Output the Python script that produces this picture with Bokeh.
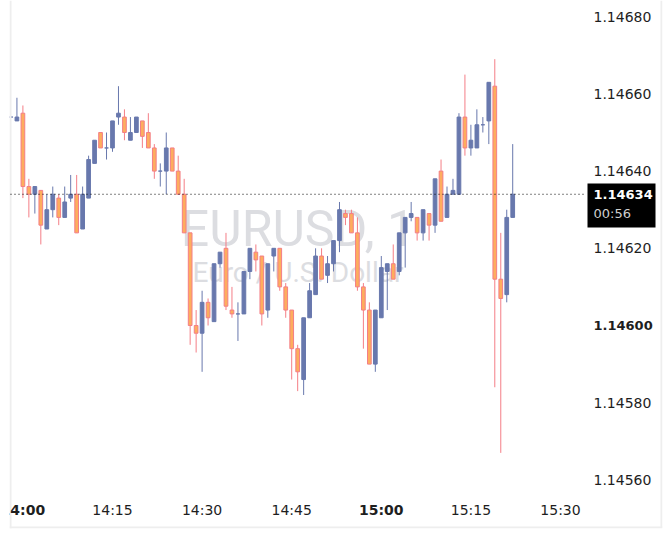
from bokeh.plotting import figure
from bokeh.models import ColumnDataSource, Label, Range1d
from bokeh.core.properties import value
from bokeh.embed import file_html
from bokeh.resources import INLINE

# ---------------- data (EURUSD, 1-minute candles) ----------------
times = ["13:58", "13:59", "14:00", "14:01", "14:02", "14:03", "14:04", "14:05", "14:06", "14:07",
         "14:08", "14:09", "14:10", "14:11", "14:12", "14:13", "14:14", "14:15", "14:16", "14:17",
         "14:18", "14:19", "14:20", "14:21", "14:22", "14:23", "14:24", "14:25", "14:26", "14:27",
         "14:28", "14:29", "14:30", "14:31", "14:32", "14:33", "14:34", "14:35", "14:36", "14:37",
         "14:38", "14:39", "14:40", "14:41", "14:42", "14:43", "14:44", "14:45", "14:46", "14:47",
         "14:48", "14:49", "14:50", "14:51", "14:52", "14:53", "14:54", "14:55", "14:56", "14:57",
         "14:58", "14:59", "15:00", "15:01", "15:02", "15:03", "15:04", "15:05", "15:06", "15:07",
         "15:08", "15:09", "15:10", "15:11", "15:12", "15:13", "15:14", "15:15", "15:16", "15:17",
         "15:18", "15:19", "15:20", "15:21", "15:22"]
opens = [1.14654, 1.14653, 1.14655, 1.14636, 1.14634, 1.14635, 1.14625, 1.14630, 1.14633, 1.14628,
         1.14633, 1.14634, 1.14625, 1.14633, 1.14642, 1.14650, 1.14646, 1.14646, 1.14654, 1.14654,
         1.14648, 1.14650, 1.14653, 1.14650, 1.14646, 1.14640, 1.14640, 1.14646, 1.14640, 1.14634,
         1.14624, 1.14600, 1.14598, 1.14606, 1.14601, 1.14616, 1.14620, 1.14604, 1.14603, 1.14603,
         1.14614, 1.14619, 1.14618, 1.14604, 1.14618, 1.14620, 1.14610, 1.14604, 1.14594, 1.14586,
         1.14602, 1.14608, 1.14618, 1.14613, 1.14616, 1.14622, 1.14629, 1.14629, 1.14624, 1.14610,
         1.14604, 1.14590, 1.14602, 1.14614, 1.14616, 1.14614, 1.14624, 1.14628, 1.14628, 1.14624,
         1.14629, 1.14626, 1.14640, 1.14628, 1.14634, 1.14634, 1.14654, 1.14646, 1.14646, 1.14652,
         1.14653, 1.14662, 1.14612, 1.14608, 1.14628]
highs = [1.14654, 1.14659, 1.14657, 1.14638, 1.14636, 1.14635, 1.14634, 1.14636, 1.14634, 1.14636,
         1.14639, 1.14639, 1.14636, 1.14644, 1.14648, 1.14650, 1.14650, 1.14653, 1.14662, 1.14656,
         1.14654, 1.14654, 1.14653, 1.14655, 1.14647, 1.14642, 1.14650, 1.14646, 1.14644, 1.14638,
         1.14624, 1.14604, 1.14609, 1.14607, 1.14616, 1.14619, 1.14624, 1.14610, 1.14606, 1.14614,
         1.14620, 1.14621, 1.14618, 1.14616, 1.14620, 1.14620, 1.14611, 1.14604, 1.14595, 1.14602,
         1.14611, 1.14620, 1.14620, 1.14618, 1.14622, 1.14632, 1.14630, 1.14630, 1.14628, 1.14611,
         1.14606, 1.14604, 1.14618, 1.14616, 1.14621, 1.14624, 1.14628, 1.14632, 1.14628, 1.14630,
         1.14629, 1.14638, 1.14643, 1.14636, 1.14638, 1.14655, 1.14665, 1.14652, 1.14656, 1.14654,
         1.14663, 1.14669, 1.14624, 1.14630, 1.14647]
lows = [1.14654, 1.14653, 1.14633, 1.14628, 1.14629, 1.14621, 1.14625, 1.14628, 1.14626, 1.14628,
        1.14632, 1.14624, 1.14625, 1.14633, 1.14642, 1.14646, 1.14643, 1.14645, 1.14652, 1.14648,
        1.14648, 1.14650, 1.14646, 1.14646, 1.14638, 1.14636, 1.14634, 1.14640, 1.14634, 1.14624,
        1.14595, 1.14593, 1.14588, 1.14600, 1.14601, 1.14615, 1.14604, 1.14602, 1.14596, 1.14603,
        1.14612, 1.14614, 1.14600, 1.14602, 1.14614, 1.14609, 1.14602, 1.14586, 1.14583, 1.14582,
        1.14602, 1.14608, 1.14612, 1.14611, 1.14614, 1.14619, 1.14626, 1.14624, 1.14609, 1.14594,
        1.14590, 1.14588, 1.14602, 1.14604, 1.14612, 1.14613, 1.14615, 1.14627, 1.14622, 1.14622,
        1.14622, 1.14624, 1.14627, 1.14628, 1.14634, 1.14634, 1.14644, 1.14644, 1.14646, 1.14650,
        1.14647, 1.14584, 1.14567, 1.14606, 1.14628]
closes = [1.14654, 1.14654, 1.14636, 1.14634, 1.14636, 1.14626, 1.14630, 1.14634, 1.14628, 1.14632,
          1.14634, 1.14624, 1.14634, 1.14643, 1.14648, 1.14646, 1.14646, 1.14653, 1.14655, 1.14650,
          1.14650, 1.14654, 1.14649, 1.14646, 1.14640, 1.14640, 1.14646, 1.14640, 1.14634, 1.14624,
          1.14600, 1.14598, 1.14606, 1.14602, 1.14616, 1.14619, 1.14605, 1.14603, 1.14603, 1.14614,
          1.14620, 1.14617, 1.14603, 1.14616, 1.14620, 1.14610, 1.14604, 1.14594, 1.14588, 1.14602,
          1.14609, 1.14618, 1.14612, 1.14616, 1.14622, 1.14630, 1.14628, 1.14624, 1.14610, 1.14604,
          1.14590, 1.14604, 1.14615, 1.14616, 1.14612, 1.14624, 1.14628, 1.14629, 1.14624, 1.14630,
          1.14626, 1.14638, 1.14627, 1.14634, 1.14635, 1.14654, 1.14646, 1.14648, 1.14652, 1.14652,
          1.14663, 1.14612, 1.14607, 1.14628, 1.14634]

price_ticks = [1.1456, 1.1458, 1.1462, 1.1464, 1.1466, 1.1468]
bold_price_ticks = [1.1460]
time_tick_minutes = [15, 30, 45, 75, 90]
time_tick_labels = ["14:15", "14:30", "14:45", "15:15", "15:30"]
bold_time_minutes = [0, 60]
bold_time_labels = ["14:00", "15:00"]
last_price = 1.14634
countdown = "00:56"
symbol_text = "EURUSD, 1"
description_text = "Euro / U.S. Dollar"

# ---------------- layout constants (pixels) ----------------
W, H = 670, 541
F_LEFT, F_RIGHT, F_TOP, F_BOTTOM = 9, 662, 0, 528    # whole chart widget
PANE_LEFT, PANE_RIGHT = 10, 585                        # candle pane
PX_PER_MIN = 89.6 / 15.0
ORIGIN_PX = 22.4            # pixel of 14:00
PX_PER_PRICE = 3.86e5       # pixels per 1.0 price unit
PX_REF, PRICE_REF = 325.0, 1.1460

def px_to_price(py):
    return PRICE_REF + (PX_REF - py) / PX_PER_PRICE

def px_to_min(px):
    return (px - ORIGIN_PX) / PX_PER_MIN

x0, x1 = px_to_min(F_LEFT), px_to_min(F_RIGHT)
y0, y1 = px_to_price(F_BOTTOM), px_to_price(F_TOP)

BLUE = "#6878ad"
ORANGE_FILL = "#fdad5e"
ORANGE_LINE = "#f47e86"
TEXT = "#1e1e1e"
BORDER = "#eeeeee"
FONT = "DejaVu Sans"

def to_min(t):
    h, m = t.split(":")
    return (int(h) - 14) * 60 + int(m)

xs = [to_min(t) for t in times]
is_up = [c >= o for o, c in zip(opens, closes)]
src = ColumnDataSource(dict(
    x=xs,
    high=highs,
    low=lows,
    top=[max(o, c) for o, c in zip(opens, closes)],
    bottom=[min(o, c) for o, c in zip(opens, closes)],
    fill=[BLUE if u else ORANGE_FILL for u in is_up],
    line=[BLUE if u else ORANGE_LINE for u in is_up],
))

p = figure(width=W, height=H, output_backend="svg", toolbar_location=None,
           x_range=Range1d(x0, x1), y_range=Range1d(y0, y1),
           x_axis_location=None, y_axis_location=None,
           min_border_left=F_LEFT, min_border_right=W - F_RIGHT,
           min_border_top=F_TOP, min_border_bottom=H - F_BOTTOM)
p.background_fill_color = "white"
p.border_fill_color = "white"
p.outline_line_color = None
p.grid.visible = False

# watermark (under candles)
wm_x = (px_to_min(PANE_LEFT) + px_to_min(PANE_RIGHT)) / 2
for txt, py, size in [(symbol_text, 228, "50px"), (description_text, 272, "28px")]:
    p.add_layout(Label(x=wm_x, y=px_to_price(py),
                       text=txt, text_align="center", text_baseline="middle",
                       text_font="Roboto", text_font_size=size,
                       text_color="#dcdde1", level="underlay"))

# candles
p.segment(x0="x", y0="high", x1="x", y1="low", color="line", line_width=1, source=src)
p.vbar(x="x", width=0.62, top="top", bottom="bottom", fill_color="fill",
       line_color="line", line_width=1, source=src)

# widget borders (left, right, bottom)
p.segment(x0=[px_to_min(10), px_to_min(661), x0], y0=[y1, y1, px_to_price(527)],
          x1=[px_to_min(10), px_to_min(661), x1], y1=[y0, px_to_price(527), px_to_price(527)],
          line_color=BORDER, line_width=2)

# last price dotted line across the candle pane
p.segment(x0=[px_to_min(PANE_LEFT)], y0=[last_price], x1=[px_to_min(PANE_RIGHT)], y1=[last_price],
          line_color="black", line_width=1, line_dash="1 3")

# price scale labels
label_x = px_to_min(PANE_RIGHT + 8)
p.text(x=[label_x] * len(price_ticks), y=price_ticks, text=["%.5f" % t for t in price_ticks],
       text_align="left", text_baseline="middle", text_font=value(FONT),
       text_font_size="14px", text_color=TEXT)
p.text(x=[label_x] * len(bold_price_ticks), y=bold_price_ticks,
       text=["%.5f" % t for t in bold_price_ticks],
       text_align="left", text_baseline="middle", text_font=value(FONT),
       text_font_size="13px", text_font_style="bold", text_color=TEXT)

# time scale labels
time_y = px_to_price(509)
p.text(x=time_tick_minutes, y=[time_y] * len(time_tick_minutes), text=time_tick_labels,
       text_align="center", text_baseline="middle", text_font=value(FONT),
       text_font_size="14px", text_color=TEXT)
p.text(x=bold_time_minutes, y=[time_y] * len(bold_time_minutes), text=bold_time_labels,
       text_align="center", text_baseline="middle", text_font=value(FONT),
       text_font_size="14px", text_font_style="bold", text_color=TEXT)

# last price box
p.quad(left=[px_to_min(587)], right=[px_to_min(655)],
       top=[px_to_price(183)], bottom=[px_to_price(227)],
       fill_color="black", line_color=None)
p.text(x=[label_x], y=[last_price], text=["%.5f" % last_price],
       text_align="left", text_baseline="middle", text_font=value(FONT),
       text_font_size="13px", text_font_style="bold", text_color="white")
p.text(x=[label_x], y=[px_to_price(213)], text=[countdown],
       text_align="left", text_baseline="middle", text_font=value(FONT),
       text_font_size="13px", text_color="#cfcfcf")

open("out.html", "w").write(file_html(p, INLINE))
